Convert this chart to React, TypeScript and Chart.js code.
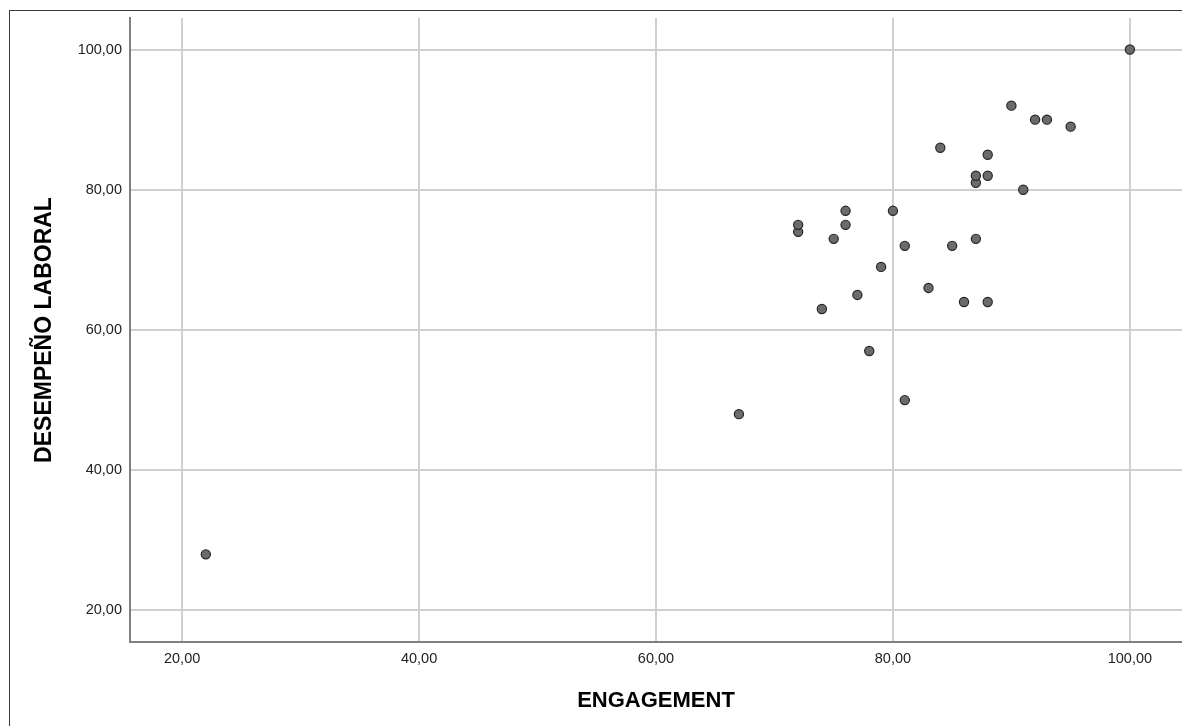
import React, { useEffect, useRef } from "react";
import { Chart, registerables } from "chart.js";

Chart.register(...registerables);

// Data
const engagement = [22, 67, 72, 72, 74, 75, 76, 76, 77, 78, 79, 80, 81, 81, 83, 84, 85, 86, 87, 87, 87, 88, 88, 88, 90, 91, 92, 93, 95, 100];
const desempeno = [28, 48, 74, 75, 63, 73, 75, 77, 65, 57, 69, 77, 72, 50, 66, 86, 72, 64, 81, 82, 73, 85, 82, 64, 92, 80, 90, 90, 89, 100];

const xTickValues = [20, 40, 60, 80, 100];
const yTickValues = [20, 40, 60, 80, 100];
const xTickLabels = ["20,00", "40,00", "60,00", "80,00", "100,00"];
const yTickLabels = ["20,00", "40,00", "60,00", "80,00", "100,00"];

const xTitle = "ENGAGEMENT";
const yTitle = "DESEMPEÑO LABORAL";

const FONT = "'Liberation Sans', Arial, Helvetica, sans-serif";

export default function App() {
  const canvasRef = useRef<HTMLCanvasElement | null>(null);

  useEffect(() => {
    const canvas = canvasRef.current;
    if (!canvas) return;
    const points = engagement.map((x, i) => ({ x, y: desempeno[i] }));

    const chart = new Chart(canvas, {
      type: "scatter",
      data: {
        datasets: [
          {
            data: points,
            backgroundColor: "#6b6b6b",
            borderColor: "#262626",
            borderWidth: 1.2,
            pointRadius: 4.6,
            pointHoverRadius: 4.6,
          },
        ],
      },
      options: {
        animation: false,
        responsive: false,
        devicePixelRatio: 1,
        layout: { autoPadding: false, padding: { left: 0, right: 0, top: 18, bottom: 0 } },
        plugins: {
          legend: { display: false },
          tooltip: { enabled: false },
        },
        scales: {
          x: {
            type: "linear",
            min: 15.6,
            max: 104.4,
            afterBuildTicks: (scale: any) => {
              scale.ticks = xTickValues.map((v) => ({ value: v }));
            },
            afterFit: (scale: any) => {
              scale.height = 84;
            },
            grid: {
              color: "#cfcfcf",
              lineWidth: 2,
              drawTicks: false,
            },
            border: { display: true, color: "#808080", width: 2 },
            ticks: {
              padding: 8,
              color: "#222",
              font: { family: FONT, size: 14.5 },
              maxRotation: 0,
              autoSkip: false,
              callback: (v: any) => {
                const i = xTickValues.indexOf(Number(v));
                return i >= 0 ? xTickLabels[i] : "";
              },
            },
            title: {
              display: true,
              text: xTitle,
              color: "#000",
              font: { family: FONT, size: 22, weight: "bold" },
              padding: { top: 0, bottom: 12 },
            },
          },
          y: {
            type: "linear",
            min: 15.5,
            max: 104.5,
            afterBuildTicks: (scale: any) => {
              scale.ticks = yTickValues.map((v) => ({ value: v }));
            },
            afterFit: (scale: any) => {
              scale.width = 130;
            },
            grid: {
              color: "#cfcfcf",
              lineWidth: 2,
              drawTicks: false,
            },
            border: { display: true, color: "#808080", width: 2 },
            ticks: {
              padding: 8,
              color: "#222",
              font: { family: FONT, size: 14.5 },
              autoSkip: false,
              callback: (v: any) => {
                const i = yTickValues.indexOf(Number(v));
                return i >= 0 ? yTickLabels[i] : "";
              },
            },
            title: {
              display: true,
              text: yTitle,
              color: "#000",
              font: { family: FONT, size: 23, weight: "bold" },
              padding: { top: 31, bottom: 0 },
            },
          },
        },
      },
    });

    return () => chart.destroy();
  }, []);

  return (
    <div
      style={{
        position: "absolute",
        left: 0,
        top: 0,
        width: 1182,
        height: 726,
        overflow: "hidden",
        background: "#fff",
      }}
    >
      <div
        style={{
          position: "absolute",
          left: 9,
          top: 10,
          width: 1400,
          height: 1000,
          borderLeft: "1px solid #3a3a3a",
          borderTop: "1px solid #3a3a3a",
        }}
      />
      <canvas
        ref={canvasRef}
        width={1182}
        height={726}
        style={{ position: "absolute", left: 0, top: 0, width: 1182, height: 726 }}
      />
    </div>
  );
}
